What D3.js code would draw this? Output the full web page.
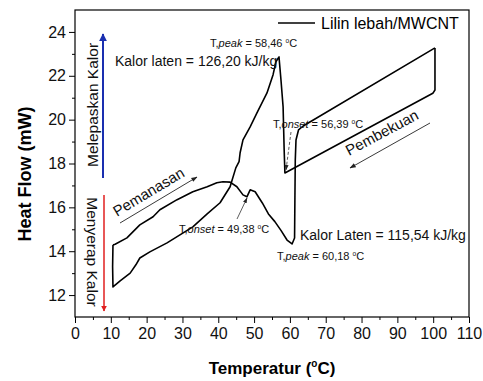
<!DOCTYPE html>
<html><head><meta charset="utf-8">
<script src="https://cdn.jsdelivr.net/npm/d3@7"></script>
<style>body{margin:0;background:#fff}svg{display:block;font-family:"Liberation Sans",Arial,sans-serif}</style>
</head><body>
<svg id="c" width="483" height="381"></svg>
<script>
// Heating run (Pemanasan)
const heatT  = [10.6, 11.2, 14.5, 18.1, 21.8, 23.7, 28.5, 32.9, 36.9, 39.6, 41.3, 43.3, 45.2, 46.9, 48.0, 48.9, 50.3, 52.3, 54.0, 55.8, 57.5, 59.2, 60.6, 61.3, 61.4, 61.5, 61.7, 62.4, 63.7, 100.5];
const heatHF = [14.28, 14.32, 14.61, 15.20, 15.57, 15.89, 16.35, 16.71, 16.94, 17.12, 17.17, 17.15, 16.94, 16.57, 16.48, 16.80, 16.71, 16.20, 15.70, 15.35, 14.95, 14.51, 14.33, 14.6, 16.5, 18.16, 19.07, 19.53, 19.71, 23.27];
// Cooling run (Pembekuan)
const coolT  = [100.5, 100.5, 99.9, 58.6, 58.4, 58.1, 57.5, 56.95, 56.1, 55.3, 53.6, 50.8, 48.9, 46.9, 46.1, 45.8, 44.9, 43.3, 40.5, 36.9, 32.9, 25.7, 20.9, 18.1, 17.0, 15.4, 12.6, 10.6, 10.5, 10.6];
const coolHF = [23.27, 21.35, 21.2, 17.57, 18.6, 20.58, 21.82, 22.86, 22.64, 22.05, 21.22, 20.31, 19.67, 19.08, 18.49, 18.08, 17.80, 16.94, 16.21, 15.70, 15.11, 14.38, 13.97, 13.69, 13.38, 13.0, 12.65, 12.37, 13.3, 14.28];
const xTicks = [0,10,20,30,40,50,60,70,80,90,100,110];
const yTicks = [12,14,16,18,20,22,24];
const seriesName = "Lilin lebah/MWCNT";

const svg = d3.select("#c");
const L=75,R=469,T=10,B=317;
const x = d3.scaleLinear().domain([0,110]).range([L,R]);
const y = d3.scaleLinear().domain([11,25]).range([B,T]);

svg.append("defs").html(`
<marker id="ah" viewBox="0 0 10 10" refX="9" refY="5" markerWidth="7" markerHeight="7" orient="auto"><path d="M0,1.5 L10,5 L0,8.5 z" fill="#222"/></marker>
<marker id="ahb" viewBox="0 0 10 10" refX="9" refY="5" markerWidth="4" markerHeight="4" orient="auto"><path d="M0,0 L10,5 L0,10 z" fill="#1a2fb0"/></marker>
<marker id="ahr" viewBox="0 0 10 10" refX="9" refY="5" markerWidth="4" markerHeight="4" orient="auto"><path d="M0,0 L10,5 L0,10 z" fill="#e01f1f"/></marker>`);

// frame
svg.append("rect").attr("x",L).attr("y",T).attr("width",R-L).attr("height",B-T).attr("fill","none").attr("stroke","#000").attr("stroke-width",1.2);

// axes
const gx = svg.append("g").attr("transform",`translate(0,${B})`)
  .call(d3.axisBottom(x).tickValues(xTicks).tickSize(6).tickPadding(5).tickFormat(d3.format("d")));
gx.append("g").call(d3.axisBottom(x).tickValues(d3.range(5,110,10)).tickSize(3).tickFormat(""));
const gy = svg.append("g").attr("transform",`translate(${L},0)`)
  .call(d3.axisLeft(y).tickValues(yTicks).tickSize(6).tickPadding(3).tickFormat(d3.format("d")));
gy.append("g").call(d3.axisLeft(y).tickValues([13,15,17,19,21,23]).tickSize(3).tickFormat(""));
svg.selectAll(".domain").attr("stroke","none");
svg.selectAll(".tick line").attr("stroke","#000");
svg.selectAll(".tick text").attr("font-size",16).attr("fill","#111").attr("font-family","Liberation Sans, Arial, sans-serif");

// curves
const line = d3.line().x(d=>x(d[0])).y(d=>y(d[1]));
svg.append("path").datum(heatT.map((t,i)=>[t,heatHF[i]])).attr("d",line).attr("fill","none").attr("stroke","#000").attr("stroke-width",1.6).attr("stroke-linejoin","round");
svg.append("path").datum(coolT.map((t,i)=>[t,coolHF[i]])).attr("d",line).attr("fill","none").attr("stroke","#000").attr("stroke-width",1.6).attr("stroke-linejoin","round");

// legend
svg.append("line").attr("x1",278).attr("x2",315).attr("y1",23).attr("y2",23).attr("stroke","#000").attr("stroke-width",1.6);
svg.append("text").attr("x",321).attr("y",29).attr("font-size",16).text(seriesName);

// annotations
function label(xp,yp,size,parts){
  const t=svg.append("text").attr("x",xp).attr("y",yp).attr("font-size",size).attr("fill","#111");
  parts.forEach(p=>{
    const s=t.append("tspan").text(p[0]);
    if(p[1]==="i") s.attr("font-style","italic");
    if(p[1]==="sup") s.attr("font-size",size*0.6).attr("dy",-size*0.4);
    if(p[1]==="after") s.attr("dy",size*0.4);
  });
  return t;
}
label(210,47,11,[["T,"],["peak","i"],[" = 58,46 "],["o","sup"],["C","after"]]);
svg.append("text").attr("x",115).attr("y",66).attr("font-size",14).attr("fill","#111").text("Kalor laten = 126,20 kJ/kg");
label(273,128,11,[["T,"],["onset","i"],[" = 56,39 "],["o","sup"],["C","after"]]);
label(179,233,11,[["T,"],["onset","i"],[" = 49,38 "],["o","sup"],["C","after"]]);
svg.append("text").attr("x",300).attr("y",240).attr("font-size",14).attr("fill","#111").text("Kalor Laten = 115,54 kJ/kg");
label(277,260,11,[["T,"],["peak","i"],[" = 60,18 "],["o","sup"],["C","after"]]);

// small pointer arrows
svg.append("line").attr("x1",291).attr("y1",132).attr("x2",286).attr("y2",170).attr("stroke","#333").attr("stroke-width",0.8).attr("stroke-dasharray","3,2").attr("marker-end","url(#ah)");
svg.append("line").attr("x1",237).attr("y1",219).attr("x2",247).attr("y2",198).attr("stroke","#333").attr("stroke-width",0.8).attr("marker-end","url(#ah)");

// process arrows
svg.append("text").attr("transform","translate(117,217) rotate(-31)").attr("font-size",15).attr("fill","#111").text("Pemanasan");
svg.append("line").attr("x1",120).attr("y1",223).attr("x2",197).attr("y2",177).attr("stroke","#222").attr("stroke-width",0.9).attr("marker-end","url(#ah)");
svg.append("text").attr("transform","translate(349,156) rotate(-28)").attr("font-size",15).attr("fill","#111").text("Pembekuan");
svg.append("line").attr("x1",430).attr("y1",123).attr("x2",350).attr("y2",168).attr("stroke","#222").attr("stroke-width",0.9).attr("marker-end","url(#ah)");

// side arrows
svg.append("line").attr("x1",103).attr("y1",178).attr("x2",103).attr("y2",34).attr("stroke","#1a2fb0").attr("stroke-width",2).attr("marker-end","url(#ahb)");
svg.append("line").attr("x1",104).attr("y1",195).attr("x2",104).attr("y2",311).attr("stroke","#e01f1f").attr("stroke-width",1.5).attr("marker-end","url(#ahr)");
svg.append("text").attr("transform","translate(98,105) rotate(-90)").attr("text-anchor","middle").attr("font-size",15.5).attr("fill","#111").text("Melepaskan Kalor");
svg.append("text").attr("transform","translate(87,252) rotate(90)").attr("text-anchor","middle").attr("font-size",15.5).attr("fill","#111").text("Menyerap Kalor");

// axis titles
svg.append("text").attr("transform","translate(31,174) rotate(-90)").attr("text-anchor","middle").attr("font-size",18).attr("font-weight","bold").text("Heat Flow (mW)");
const xt = svg.append("text").attr("x",272).attr("y",374).attr("text-anchor","middle").attr("font-size",17).attr("font-weight","bold");
xt.append("tspan").text("Temperatur (");
xt.append("tspan").text("o").attr("font-size",10).attr("dy",-7);
xt.append("tspan").text("C)").attr("dy",7);
</script>
</body></html>
